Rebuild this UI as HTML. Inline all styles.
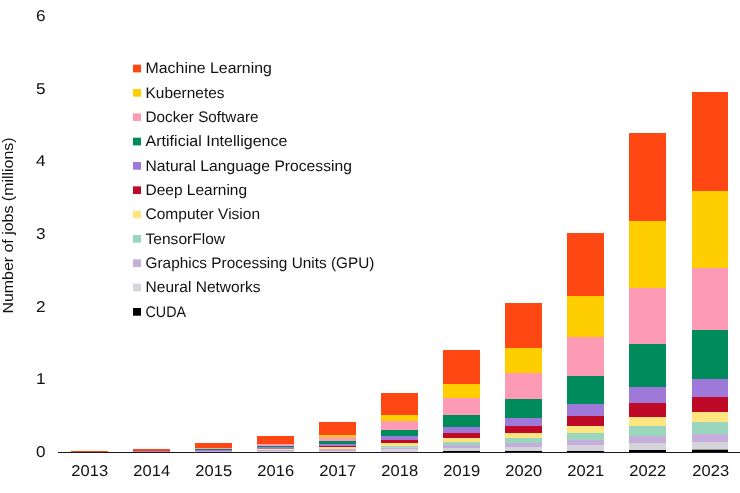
<!DOCTYPE html>
<html lang="en"><head><meta charset="utf-8"><title>Number of jobs (millions)</title>
<style>
html,body{margin:0;padding:0;background:#fff;}
svg{display:block;}
text{font-family:"Liberation Sans",Arial,sans-serif;fill:#111;}
</style></head><body>
<svg width="740" height="493" viewBox="0 0 740 493">
<rect width="740" height="493" fill="#ffffff"/>

<rect x="71.00" y="451" width="37" height="1.00" fill="#FF4713"/>
<text transform="translate(71.30,476.1) skewX(0.2)" font-size="15.7" textLength="36.8" lengthAdjust="spacingAndGlyphs">2013</text>
<rect x="133.00" y="449" width="37" height="2.00" fill="#FF4713"/>
<rect x="133.00" y="451" width="37" height="1.00" fill="#9E79D9"/>
<text transform="translate(133.30,476.1) skewX(0.2)" font-size="15.7" textLength="36.8" lengthAdjust="spacingAndGlyphs">2014</text>
<rect x="195.00" y="443" width="37" height="5.00" fill="#FF4713"/>
<rect x="195.00" y="448" width="37" height="1.00" fill="#FC9BB3"/>
<rect x="195.00" y="449" width="37" height="1.00" fill="#008B5C"/>
<rect x="195.00" y="450" width="37" height="1.00" fill="#9E79D9"/>
<rect x="195.00" y="451" width="37" height="1.00" fill="#C5AEDC"/>
<text transform="translate(195.30,476.1) skewX(0.2)" font-size="15.7" textLength="36.8" lengthAdjust="spacingAndGlyphs">2015</text>
<rect x="257.00" y="436" width="37" height="8.00" fill="#FF4713"/>
<rect x="257.00" y="444" width="37" height="2.00" fill="#FC9BB3"/>
<rect x="257.00" y="446" width="37" height="1.00" fill="#008B5C"/>
<rect x="257.00" y="447" width="37" height="2.00" fill="#9E79D9"/>
<rect x="257.00" y="449" width="37" height="1.00" fill="#FFE580"/>
<rect x="257.00" y="450" width="37" height="1.00" fill="#C5AEDC"/>
<rect x="257.00" y="451" width="37" height="1.00" fill="#D5D3DB"/>
<text transform="translate(257.30,476.1) skewX(0.2)" font-size="15.7" textLength="36.8" lengthAdjust="spacingAndGlyphs">2016</text>
<rect x="319.00" y="422" width="37" height="13.00" fill="#FF4713"/>
<rect x="319.00" y="435" width="37" height="2.00" fill="#FFCE00"/>
<rect x="319.00" y="437" width="37" height="4.00" fill="#FC9BB3"/>
<rect x="319.00" y="441" width="37" height="3.00" fill="#008B5C"/>
<rect x="319.00" y="444" width="37" height="2.00" fill="#9E79D9"/>
<rect x="319.00" y="446" width="37" height="1.00" fill="#BE0A26"/>
<rect x="319.00" y="447" width="37" height="2.00" fill="#FFE580"/>
<rect x="319.00" y="449" width="37" height="2.00" fill="#C5AEDC"/>
<rect x="319.00" y="451" width="37" height="1.00" fill="#D5D3DB"/>
<text transform="translate(319.30,476.1) skewX(0.2)" font-size="15.7" textLength="36.8" lengthAdjust="spacingAndGlyphs">2017</text>
<rect x="381.00" y="393" width="37" height="22.00" fill="#FF4713"/>
<rect x="381.00" y="415" width="37" height="6.00" fill="#FFCE00"/>
<rect x="381.00" y="421" width="37" height="9.00" fill="#FC9BB3"/>
<rect x="381.00" y="430" width="37" height="6.00" fill="#008B5C"/>
<rect x="381.00" y="436" width="37" height="4.00" fill="#9E79D9"/>
<rect x="381.00" y="440" width="37" height="3.00" fill="#BE0A26"/>
<rect x="381.00" y="443" width="37" height="3.00" fill="#FFE580"/>
<rect x="381.00" y="446" width="37" height="1.50" fill="#99D6BD"/>
<rect x="381.00" y="447.5" width="37" height="1.50" fill="#C5AEDC"/>
<rect x="381.00" y="449" width="37" height="3.00" fill="#D5D3DB"/>
<text transform="translate(381.30,476.1) skewX(0.2)" font-size="15.7" textLength="36.8" lengthAdjust="spacingAndGlyphs">2018</text>
<rect x="443.00" y="350" width="37" height="34.00" fill="#FF4713"/>
<rect x="443.00" y="384" width="37" height="14.00" fill="#FFCE00"/>
<rect x="443.00" y="398" width="37" height="17.00" fill="#FC9BB3"/>
<rect x="443.00" y="415" width="37" height="12.00" fill="#008B5C"/>
<rect x="443.00" y="427" width="37" height="6.00" fill="#9E79D9"/>
<rect x="443.00" y="433" width="37" height="5.00" fill="#BE0A26"/>
<rect x="443.00" y="438" width="37" height="4.00" fill="#FFE580"/>
<rect x="443.00" y="442" width="37" height="3.00" fill="#99D6BD"/>
<rect x="443.00" y="445" width="37" height="3.00" fill="#C5AEDC"/>
<rect x="443.00" y="448" width="37" height="3.00" fill="#D5D3DB"/>
<rect x="443.00" y="451" width="37" height="1.00" fill="#000000"/>
<text transform="translate(443.30,476.1) skewX(0.2)" font-size="15.7" textLength="36.8" lengthAdjust="spacingAndGlyphs">2019</text>
<rect x="505.00" y="303" width="37" height="45.00" fill="#FF4713"/>
<rect x="505.00" y="348" width="37" height="25.00" fill="#FFCE00"/>
<rect x="505.00" y="373" width="37" height="26.00" fill="#FC9BB3"/>
<rect x="505.00" y="399" width="37" height="19.00" fill="#008B5C"/>
<rect x="505.00" y="418" width="37" height="8.00" fill="#9E79D9"/>
<rect x="505.00" y="426" width="37" height="7.00" fill="#BE0A26"/>
<rect x="505.00" y="433" width="37" height="5.00" fill="#FFE580"/>
<rect x="505.00" y="438" width="37" height="5.00" fill="#99D6BD"/>
<rect x="505.00" y="443" width="37" height="4.00" fill="#C5AEDC"/>
<rect x="505.00" y="447" width="37" height="4.00" fill="#D5D3DB"/>
<rect x="505.00" y="451" width="37" height="1.00" fill="#000000"/>
<text transform="translate(505.30,476.1) skewX(0.2)" font-size="15.7" textLength="36.8" lengthAdjust="spacingAndGlyphs">2020</text>
<rect x="567.00" y="233" width="37" height="63.00" fill="#FF4713"/>
<rect x="567.00" y="296" width="37" height="41.00" fill="#FFCE00"/>
<rect x="567.00" y="337" width="37" height="39.00" fill="#FC9BB3"/>
<rect x="567.00" y="376" width="37" height="28.00" fill="#008B5C"/>
<rect x="567.00" y="404" width="37" height="12.00" fill="#9E79D9"/>
<rect x="567.00" y="416" width="37" height="10.00" fill="#BE0A26"/>
<rect x="567.00" y="426" width="37" height="7.00" fill="#FFE580"/>
<rect x="567.00" y="433" width="37" height="7.00" fill="#99D6BD"/>
<rect x="567.00" y="440" width="37" height="5.00" fill="#C5AEDC"/>
<rect x="567.00" y="445" width="37" height="6.00" fill="#D5D3DB"/>
<rect x="567.00" y="451" width="37" height="1.00" fill="#000000"/>
<text transform="translate(567.30,476.1) skewX(0.2)" font-size="15.7" textLength="36.8" lengthAdjust="spacingAndGlyphs">2021</text>
<rect x="629.00" y="133" width="37" height="88.00" fill="#FF4713"/>
<rect x="629.00" y="221" width="37" height="67.00" fill="#FFCE00"/>
<rect x="629.00" y="288" width="37" height="56.00" fill="#FC9BB3"/>
<rect x="629.00" y="344" width="37" height="43.00" fill="#008B5C"/>
<rect x="629.00" y="387" width="37" height="16.00" fill="#9E79D9"/>
<rect x="629.00" y="403" width="37" height="14.00" fill="#BE0A26"/>
<rect x="629.00" y="417" width="37" height="9.00" fill="#FFE580"/>
<rect x="629.00" y="426" width="37" height="10.00" fill="#99D6BD"/>
<rect x="629.00" y="436" width="37" height="7.00" fill="#C5AEDC"/>
<rect x="629.00" y="443" width="37" height="7.00" fill="#D5D3DB"/>
<rect x="629.00" y="450" width="37" height="2.00" fill="#000000"/>
<text transform="translate(629.30,476.1) skewX(0.2)" font-size="15.7" textLength="36.8" lengthAdjust="spacingAndGlyphs">2022</text>
<rect x="692.00" y="92" width="36" height="99.00" fill="#FF4713"/>
<rect x="692.00" y="191" width="36" height="77.00" fill="#FFCE00"/>
<rect x="692.00" y="268" width="36" height="62.00" fill="#FC9BB3"/>
<rect x="692.00" y="330" width="36" height="49.00" fill="#008B5C"/>
<rect x="692.00" y="379" width="36" height="18.00" fill="#9E79D9"/>
<rect x="692.00" y="397" width="36" height="15.00" fill="#BE0A26"/>
<rect x="692.00" y="412" width="36" height="10.00" fill="#FFE580"/>
<rect x="692.00" y="422" width="36" height="12.00" fill="#99D6BD"/>
<rect x="692.00" y="434" width="36" height="8.00" fill="#C5AEDC"/>
<rect x="692.00" y="442" width="36" height="7.70" fill="#D5D3DB"/>
<rect x="692.00" y="449.7" width="36" height="2.30" fill="#000000"/>
<text transform="translate(692.30,476.1) skewX(0.2)" font-size="15.7" textLength="36.8" lengthAdjust="spacingAndGlyphs">2023</text>
<rect x="58" y="452" width="682" height="0.9" fill="#000"/>
<text transform="translate(36,457.10) skewX(0.2)" font-size="15.7" textLength="9.6" lengthAdjust="spacingAndGlyphs">0</text>
<text transform="translate(36,384.40) skewX(0.2)" font-size="15.7" textLength="9.6" lengthAdjust="spacingAndGlyphs">1</text>
<text transform="translate(36,311.70) skewX(0.2)" font-size="15.7" textLength="9.6" lengthAdjust="spacingAndGlyphs">2</text>
<text transform="translate(36,239.00) skewX(0.2)" font-size="15.7" textLength="9.6" lengthAdjust="spacingAndGlyphs">3</text>
<text transform="translate(36,166.30) skewX(0.2)" font-size="15.7" textLength="9.6" lengthAdjust="spacingAndGlyphs">4</text>
<text transform="translate(36,93.60) skewX(0.2)" font-size="15.7" textLength="9.6" lengthAdjust="spacingAndGlyphs">5</text>
<text transform="translate(36,20.90) skewX(0.2)" font-size="15.7" textLength="9.6" lengthAdjust="spacingAndGlyphs">6</text>
<text transform="translate(13.4,313.5) rotate(-90)" font-size="15.3" textLength="176" lengthAdjust="spacingAndGlyphs">Number of jobs (millions)</text>
<rect x="133" y="64.70" width="8" height="7.7" fill="#FF4713"/>
<text transform="translate(145.5,73.20) skewX(0.2)" font-size="15.3" textLength="126.4" lengthAdjust="spacingAndGlyphs">Machine Learning</text>
<rect x="133" y="89.03" width="8" height="7.7" fill="#FFCE00"/>
<text transform="translate(145.5,97.53) skewX(0.2)" font-size="15.3" textLength="79.0" lengthAdjust="spacingAndGlyphs">Kubernetes</text>
<rect x="133" y="113.36" width="8" height="7.7" fill="#FC9BB3"/>
<text transform="translate(145.5,121.86) skewX(0.2)" font-size="15.3" textLength="113.0" lengthAdjust="spacingAndGlyphs">Docker Software</text>
<rect x="133" y="137.69" width="8" height="7.7" fill="#008B5C"/>
<text transform="translate(145.5,146.19) skewX(0.2)" font-size="15.3" textLength="142.0" lengthAdjust="spacingAndGlyphs">Artificial Intelligence</text>
<rect x="133" y="162.02" width="8" height="7.7" fill="#9E79D9"/>
<text transform="translate(145.5,170.52) skewX(0.2)" font-size="15.3" textLength="206.4" lengthAdjust="spacingAndGlyphs">Natural Language Processing</text>
<rect x="133" y="186.35" width="8" height="7.7" fill="#BE0A26"/>
<text transform="translate(145.5,194.85) skewX(0.2)" font-size="15.3" textLength="101.6" lengthAdjust="spacingAndGlyphs">Deep Learning</text>
<rect x="133" y="210.68" width="8" height="7.7" fill="#FFE580"/>
<text transform="translate(145.5,219.18) skewX(0.2)" font-size="15.3" textLength="114.6" lengthAdjust="spacingAndGlyphs">Computer Vision</text>
<rect x="133" y="235.01" width="8" height="7.7" fill="#99D6BD"/>
<text transform="translate(145.5,243.51) skewX(0.2)" font-size="15.3" textLength="79.6" lengthAdjust="spacingAndGlyphs">TensorFlow</text>
<rect x="133" y="259.34" width="8" height="7.7" fill="#C5AEDC"/>
<text transform="translate(145.5,267.84) skewX(0.2)" font-size="15.3" textLength="229.0" lengthAdjust="spacingAndGlyphs">Graphics Processing Units (GPU)</text>
<rect x="133" y="283.67" width="8" height="7.7" fill="#D5D3DB"/>
<text transform="translate(145.5,292.17) skewX(0.2)" font-size="15.3" textLength="115.0" lengthAdjust="spacingAndGlyphs">Neural Networks</text>
<rect x="133" y="308.00" width="8" height="7.7" fill="#000000"/>
<text transform="translate(145.5,316.50) skewX(0.2)" font-size="15.3" textLength="40.6" lengthAdjust="spacingAndGlyphs">CUDA</text>
</svg></body></html>
